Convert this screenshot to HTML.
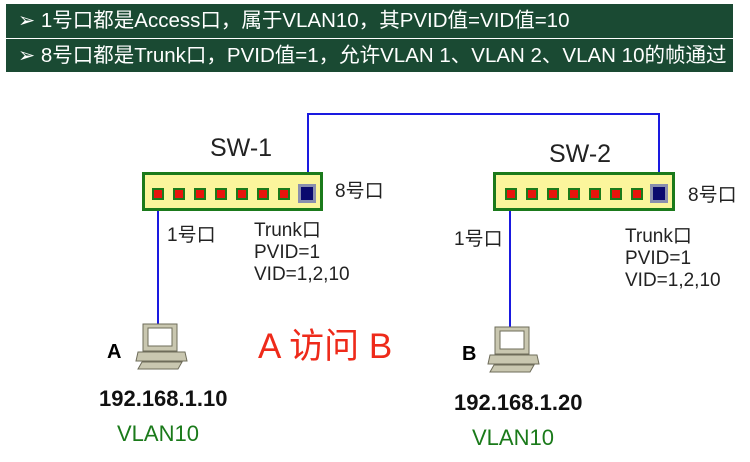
<!DOCTYPE html><html><head><meta charset="utf-8"><style>
body{margin:0;width:750px;height:462px;background:#fff;position:relative;overflow:hidden;font-family:"Liberation Sans","Noto Sans CJK SC",sans-serif}
.a{position:absolute;white-space:nowrap}
.hdr{position:absolute;left:6px;width:727px;background:#1a4a33;color:#fff;font-size:20.5px;line-height:33px;padding-left:12px;box-sizing:border-box}
.sw{position:absolute;background:#fbf59c;border:3px solid #1b7a1b;box-sizing:border-box;height:39px}
.p{position:absolute;width:12px;height:12px;background:#e8140c;border:2px solid #1b7a1b;box-sizing:border-box;top:13px}
.p8{position:absolute;width:18px;height:19px;background:#0a0a6e;border:3px solid #8a8fae;box-sizing:border-box;top:9px}
.t{font-size:19px;color:#222}
</style></head><body>
<div class="hdr" style="top:4px;height:34px">➢ 1号口都是Access口，属于VLAN10，其PVID值=VID值=10</div>
<div class="hdr" style="top:39px;height:33px">➢ 8号口都是Trunk口，PVID值=1，允许VLAN 1、VLAN 2、VLAN 10的帧通过</div>
<svg class="a" style="left:0;top:0" width="750" height="462">
<polyline points="308,193 308,114 659,114 659,193" fill="none" stroke="#1a1ae0" stroke-width="2"/>
<line x1="158" y1="194" x2="158" y2="326" stroke="#1a1ae0" stroke-width="2"/>
<line x1="510" y1="194" x2="510" y2="330" stroke="#1a1ae0" stroke-width="2"/>
<g id="pc" fill="#c9c7b0" stroke="#6e6c5a" stroke-width="1">
<rect x="143" y="324" width="34" height="27"/><rect x="148" y="328" width="24" height="18" fill="#fff"/>
<polygon points="138,352 185,352 187,361 136,361"/><polygon points="142,362 182,362 178,369 138,369"/>
</g>
<use href="#pc" x="352" y="3"/>
</svg>
<div class="sw" style="left:142px;top:172px;width:181px">
<div class="p" style="left:7px"></div><div class="p" style="left:28px"></div><div class="p" style="left:49px"></div><div class="p" style="left:70px"></div><div class="p" style="left:91px"></div><div class="p" style="left:112px"></div><div class="p" style="left:133px"></div><div class="p8" style="left:153px"></div></div>
<div class="sw" style="left:493px;top:172px;width:182px">
<div class="p" style="left:9px"></div><div class="p" style="left:30px"></div><div class="p" style="left:51px"></div><div class="p" style="left:72px"></div><div class="p" style="left:93px"></div><div class="p" style="left:114px"></div><div class="p" style="left:135px"></div><div class="p8" style="left:154px"></div></div>
<div class="a" style="left:210px;top:134px;font-size:25px;color:#222">SW-1</div>
<div class="a" style="left:549px;top:140px;font-size:25px;color:#222">SW-2</div>
<div class="a t" style="left:335px;top:176px">8号口</div>
<div class="a t" style="left:688px;top:180px">8号口</div>
<div class="a t" style="left:167px;top:220px">1号口</div>
<div class="a t" style="left:454px;top:224px">1号口</div>
<div class="a t" style="left:254px;top:220px;line-height:22px">Trunk口<br>PVID=1<br>VID=1,2,10</div>
<div class="a t" style="left:625px;top:226px;line-height:22px">Trunk口<br>PVID=1<br>VID=1,2,10</div>
<div class="a" style="left:107px;top:341px;font-size:20px;font-weight:bold">A</div>
<div class="a" style="left:462px;top:343px;font-size:20px;font-weight:bold">B</div>
<div class="a" style="left:258px;top:318px;font-size:35px;color:#ee2a1a">A 访问 B</div>
<div class="a" style="left:99px;top:386px;font-size:22px;font-weight:bold;color:#111">192.168.1.10</div>
<div class="a" style="left:454px;top:390px;font-size:22px;font-weight:bold;color:#111">192.168.1.20</div>
<div class="a" style="left:117px;top:421px;font-size:22px;color:#1a7a1a">VLAN10</div>
<div class="a" style="left:472px;top:425px;font-size:22px;color:#1a7a1a">VLAN10</div>
</body></html>
